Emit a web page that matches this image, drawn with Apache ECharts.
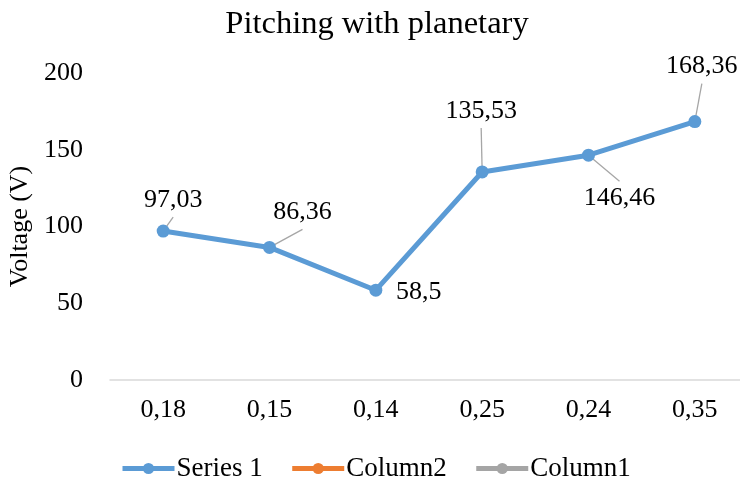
<!DOCTYPE html>
<html>
<head>
<meta charset="utf-8">
<script src="https://cdn.jsdelivr.net/npm/echarts@6/dist/echarts.min.js"></script>
<style>
html,body{margin:0;padding:0;background:#fff;}
#chart{width:740px;height:478px;}
</style>
</head>
<body>
<div id="chart"></div>
<script>
var categories = ['0,18', '0,15', '0,14', '0,25', '0,24', '0,35'];
var series1 = [97.03, 86.36, 58.5, 135.53, 146.46, 168.36];
var column2 = [];
var column1 = [];
var yTicks = [0, 50, 100, 150, 200];

// label offsets (styling only): [dx, dy] of the label centre from its point
var labelOffsets = [[10, -31], [33, -35], [43, 2], [-1, -61], [31, 43], [7, -55]];
var showLeader = [true, true, false, true, true, true];
var LABEL_HALF_H = 13;

var FONT = 'Liberation Serif';
var chart = echarts.init(document.getElementById('chart'));

function fmt(v) { return String(v).replace('.', ','); }

chart.setOption({
  animation: false,
  title: {
    text: 'Pitching with planetary',
    left: 372, top: 3, textAlign: 'center',
    textStyle: { fontFamily: FONT, fontSize: 32.5, fontWeight: 'normal', color: '#000' }
  },
  legend: {
    data: ['Series 1', 'Column2', 'Column1'],
    left: 115, top: 450,
    itemWidth: 52, itemHeight: 14, itemGap: 27,
    lineStyle: { width: 5 },
    textStyle: { fontFamily: FONT, fontSize: 27, color: '#000', padding: [0, 0, 0, -3] }
  },
  grid: { left: 110, width: 638, top: 73, bottom: 98, containLabel: false, outerBoundsMode: 'none' },
  xAxis: {
    type: 'category',
    data: categories,
    boundaryGap: true,
    axisLine: { show: true, lineStyle: { color: '#D9D9D9', width: 1.5 } },
    axisTick: { show: false },
    axisLabel: { fontFamily: FONT, fontSize: 26, color: '#000', margin: 17 },
    splitLine: { show: false }
  },
  yAxis: {
    type: 'value',
    min: yTicks[0], max: yTicks[yTicks.length - 1], interval: 50,
    name: 'Voltage (V)', nameLocation: 'middle', nameGap: 76, nameRotate: 90,
    nameTextStyle: { fontFamily: FONT, fontSize: 26, color: '#000' },
    axisLine: { show: false },
    axisTick: { show: false },
    axisLabel: { fontFamily: FONT, fontSize: 26, color: '#000', margin: 27 },
    splitLine: { show: false }
  },
  series: [
    {
      name: 'leaders', type: 'custom',
      silent: true, z: 1,
      data: series1.map(function (v, i) { return [i, v]; }),
      renderItem: function (params, api) {
        var i = params.dataIndex;
        if (!showLeader[i]) return null;
        var p = api.coord([api.value(0), api.value(1)]);
        var o = labelOffsets[i];
        var ex = p[0] + o[0];
        var ey = o[1] < 0 ? p[1] + o[1] + LABEL_HALF_H + 4 : p[1] + o[1] - LABEL_HALF_H - 4;
        return {
          type: 'line',
          shape: { x1: p[0], y1: p[1], x2: ex, y2: ey },
          style: { stroke: '#A6A6A6', lineWidth: 1.3 }
        };
      }
    },
    {
      name: 'Series 1', type: 'line',
      data: series1,
      color: '#5B9BD5',
      lineStyle: { width: 5, color: '#5B9BD5' },
      symbol: 'circle', symbolSize: 13,
      itemStyle: { color: '#5B9BD5' },
      label: {
        show: true, position: 'inside',
        fontFamily: FONT, fontSize: 26, color: '#000',
        formatter: function (p) { return fmt(p.value); }
      },
      labelLine: { show: false },
      labelLayout: function (params) {
        var o = labelOffsets[params.dataIndex] || [0, 0];
        return { dx: o[0], dy: o[1] };
      },
      z: 3
    },
    {
      name: 'Column2', type: 'line', data: column2,
      color: '#ED7D31', lineStyle: { width: 5, color: '#ED7D31' },
      symbol: 'circle', symbolSize: 13, itemStyle: { color: '#ED7D31' }
    },
    {
      name: 'Column1', type: 'line', data: column1,
      color: '#A5A5A5', lineStyle: { width: 5, color: '#A5A5A5' },
      symbol: 'circle', symbolSize: 13, itemStyle: { color: '#A5A5A5' }
    }
  ]
});
</script>
</body>
</html>
